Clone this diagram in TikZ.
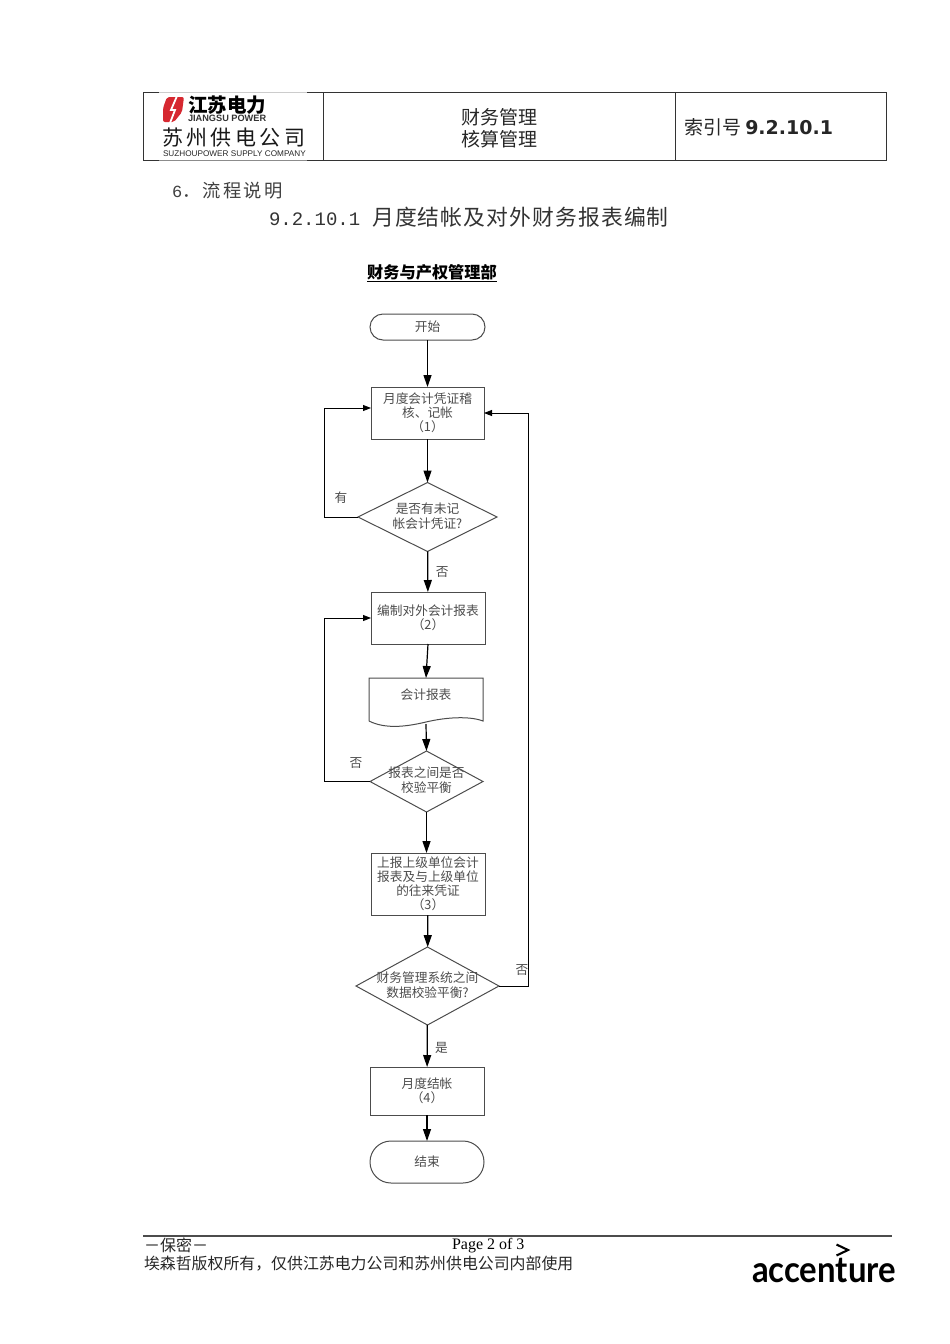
\documentclass[tikz,border=0pt]{standalone}
\usepackage{fontspec}
\usepackage{graphicx}
\setmainfont{Noto Sans CJK SC}
\newfontfamily\serifnum{Liberation Serif}
\newfontfamily\mononum{Liberation Mono}
\newfontfamily\boldnum{DejaVu Sans}
\newfontfamily\logonum{Liberation Sans}
\newfontfamily\widecjk[LetterSpace=12]{Noto Sans CJK SC}
\newfontfamily\titlecjk[LetterSpace=5]{Noto Sans CJK SC}
\newfontfamily\accfont{Lato}
\usetikzlibrary{arrows.meta,calc,shapes.geometric,shapes.misc}
\definecolor{flowgray}{gray}{0.3}
\definecolor{logored}{RGB}{214,40,48}
\newcommand{\fs}[1]{\fontsize{#1}{#1}\selectfont}
\newcommand{\dtext}[1]{\smash{\makebox[0pt]{\raisebox{-3.5pt}{\begin{tabular}{@{}c@{}}#1\end{tabular}}}}}
\tikzset{
    flowtext/.style={text=flowgray, font=\fontsize{12.7}{14}\selectfont, align=center, inner sep=0pt, outer sep=0pt},
    flowbox/.style={flowtext, draw=flowgray, rectangle, line width=1pt},
    flowend/.style={flowtext, draw=flowgray, rounded rectangle, line width=1pt},
    decision/.style={flowtext, draw=flowgray, diamond, aspect=1, line width=1pt},
    flowarrow/.style={-{Triangle[length=12pt,width=8pt]}, line width=1.2pt, black},
    looparrow/.style={-{Triangle[length=8pt,width=6pt]}, line width=0.9pt, black},
    plain/.style={inner sep=0pt, outer sep=0pt, text=black!85}
}

\begin{document}
\begin{tikzpicture}[x=1pt,y=-1pt]
\useasboundingbox (0,0) rectangle (950,1344);

% Header
\node (head) [draw=black!80, line width=0.9pt, rectangle, minimum width=743pt, minimum height=68pt, inner sep=0pt, outer sep=0pt] at (514.5,126) {};
\coordinate (divA) at (323,92);
\coordinate (divB) at (675,92);
\draw[black!80, line width=0.9pt] (divA) -- (divA |- head.south);
\draw[black!80, line width=0.9pt] (divB) -- (divB |- head.south);
\fill[white] (159,91) rectangle (307,161);
\draw[black!20, line width=0.9pt] (159,92) -- (307,92);
\draw[black!45, line width=0.9pt] (159,160) -- (307,160);
\node (headA) [plain, font=\fs{19}, align=center] at (499,128) {财务管理\\[3pt]核算管理};
\node (headB) [plain, font=\fs{19}, anchor=west] at (684,127) {索引号 {\boldnum\bfseries 9.2.10.1}};

% Logo
\fill[logored, rounded corners=2pt] (167,97) -- (184,97) -- (182,112) -- (174,122) -- (163,122) -- (163,108) -- cycle;
\draw[white, line width=1.8pt] (177,96) -- (171,110) -- (175,110) -- (170,123);
\node (logoA) [plain, text=black, font=\fs{19.5}\bfseries, anchor=west] at (188,105.5) {江苏电力};
\node (logoB) [plain, text=black!80, font=\logonum\fs{9.2}\bfseries, anchor=west] at (188,118) {JIANGSU POWER};
\node (logoC) [plain, text=black!90, font=\widecjk\fs{21}, anchor=west] at (162,137.5) {苏\,州\,供\,电\,公\,司};
\node (logoD) [plain, text=black!85, font=\logonum\fs{8.2}, anchor=west] at (163,153.5) {SUZHOUPOWER SUPPLY COMPANY};

% Titles
\node (secA) [plain, text=black!75, font=\widecjk\fs{18.3}, anchor=west] at (172,191) {{\mononum\fs{17}6}．流程说明};
\node (secB) [plain, text=black!80, font=\titlecjk\fs{21.8}, anchor=west] at (269,217) {{\mononum\fs{19}9.2.10.1}\hspace{12pt}月度结帐及对外财务报表编制};
\node (dept) [plain, text=black, font=\fs{16.2}\bfseries, anchor=base] at (432,278) {\underline{财务与产权管理部}};

% Nodes
\node (start) [flowend, minimum width=115pt, minimum height=26pt] at (427.5,327) {开始};
\node (voucher) [flowbox, minimum width=113pt, minimum height=52pt] at (427.5,413) {月度会计凭证稽\\核、记帐\\（1）};
\node (unposted) [decision, minimum width=139pt, minimum height=69pt] at (427.5,517) {\dtext{是否有未记\\帐会计凭证?}};
\node (prepare) [flowbox, minimum width=114pt, minimum height=52pt] at (428,618) {编制对外会计报表\\（2）};
\node (report) [flowtext, rectangle, minimum width=114pt, minimum height=46pt] at (426,701) {\raisebox{14pt}{会计报表}};
\node (balance) [decision, minimum width=113pt, minimum height=61pt] at (426.5,781.5) {\dtext{报表之间是否\\校验平衡}};
\node (submit) [flowbox, minimum width=114pt, minimum height=62pt] at (428,884) {上报上级单位会计\\报表及与上级单位\\的往来凭证\\（3）};
\node (system) [decision, minimum width=143pt, minimum height=78pt] at (427.5,986) {\dtext{财务管理系统之间\\数据校验平衡?}};
\node (close) [flowbox, minimum width=114pt, minimum height=48pt] at (427,1091) {月度结帐\\（4）};
\node (finish) [flowend, minimum width=114pt, minimum height=42pt] at (427,1162) {结束};

% Document outline
\draw[flowgray, line width=1pt] ($(report.south west)+(0,-3)$) -- (report.north west) -- (report.north east) -- ($(report.south east)+(0,-3)$)
    .. controls (470,716) and (447,717) .. (426,722) .. controls (405,727) and (385,729) .. ($(report.south west)+(0,-3)$);

% Bend points
\coordinate (voucherIn) at (371,408);
\coordinate (loopA) at (324,408);
\coordinate (loopB) at (324,618);
\coordinate (loopC) at (528,413);

% Arrows
\draw[flowarrow] (start) -- (voucher);
\draw[flowarrow] (voucher) -- (unposted);
\draw[flowarrow] (unposted) -- node (no1) [plain, flowtext, right=8pt] {否} (prepare);
\draw[flowarrow] (prepare.south) -- (report.north);
\draw[flowarrow] (report.south) -- (balance.north);
\draw[flowarrow] (balance.south) -- (balance.south |- submit.north);
\draw[flowarrow] (submit) -- (system);
\draw[flowarrow] (system) -- node (yes1) [plain, flowtext, right=8pt, pos=0.55] {是} (close);
\draw[flowarrow] (close) -- (finish);
\draw[looparrow] (unposted.west) -| (loopA) -- (voucherIn);
\draw[looparrow] (balance.west) -| (loopB) -- (prepare.west);
\draw[looparrow] (system.east) -| (loopC) -- (voucher.east);

% Loop labels
\node (yes2) [flowtext] at (341,498) {有};
\node (no2) [flowtext] at (356,763) {否};
\node (no3) [flowtext] at (522,970) {否};

% Footer
\coordinate (ruleA) at (143,1236);
\coordinate (ruleB) at (892,1236);
\draw[black!70, line width=1.4pt] (ruleA) -- (ruleB);
\node (conf) [plain, font=\fs{16}, anchor=west] at (144,1245) {－保密－};
\node (page) [plain, text=black, font=\serifnum\fs{16}, anchor=west] at (452,1245.5) {Page 2 of 3};
\node (copy) [plain, font=\fs{15.9}, anchor=west] at (144,1264) {埃森哲版权所有，仅供江苏电力公司和苏州供电公司内部使用};
\node (acc) [plain, text=black, font=\accfont\bfseries, anchor=base west] at (752,1282.5) {\scalebox{0.89}[0.98]{\fontsize{37}{37}\selectfont accenture}};
\draw[black, line width=2.1pt] (836.5,1244.5) -- (848,1250) -- (836.5,1255.5);
\end{tikzpicture}
\end{document}
